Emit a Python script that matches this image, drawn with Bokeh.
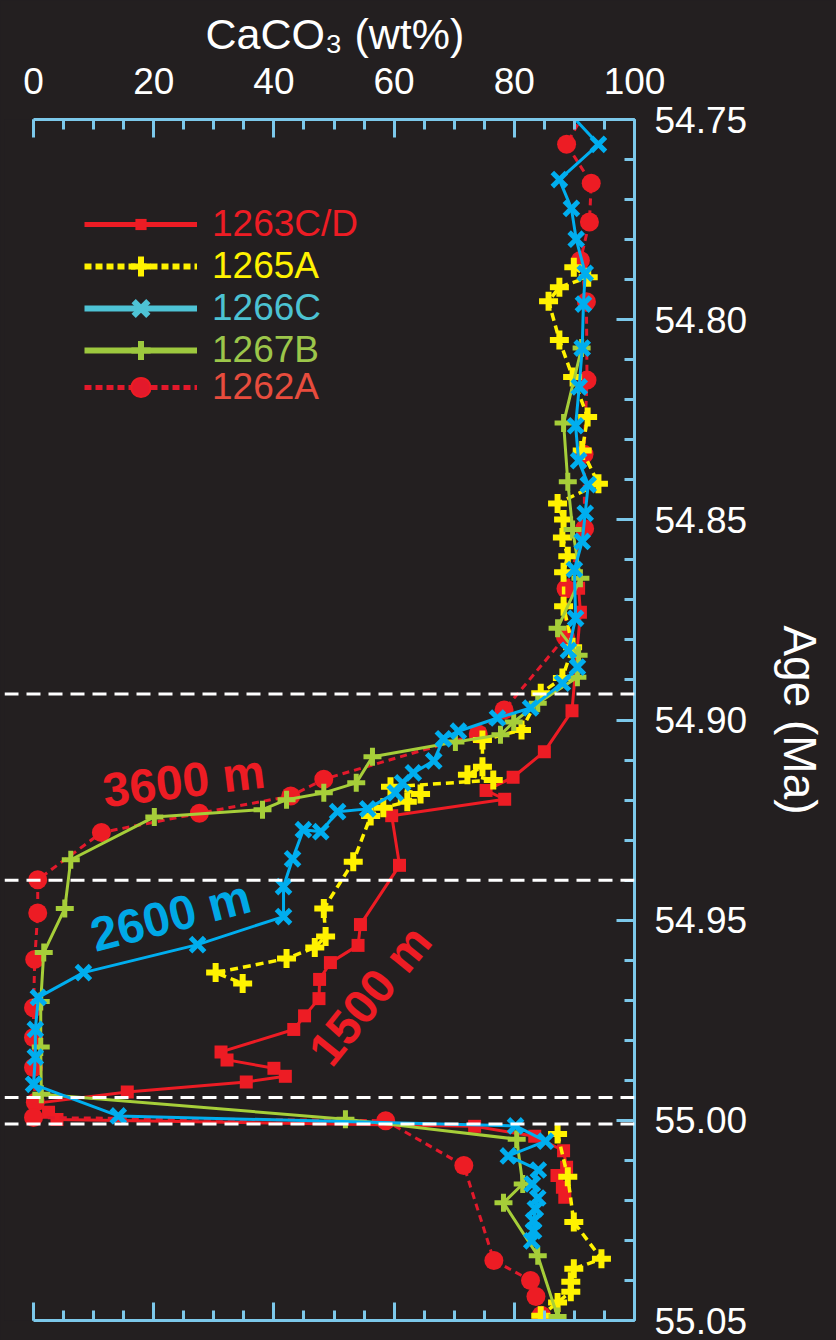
from bokeh.plotting import figure
from bokeh.models import (Range1d, LinearAxis, FixedTicker, PrintfTickFormatter,
                          CustomJSTickFormatter, Span, Label, Legend, LegendItem, Title)
from bokeh.embed import file_html
from bokeh.resources import INLINE

nan = float("nan")

# ---------------- data ----------------
# Site 1263C/D (1500 m)
s1263_wt = [90.7, 91.0, 89.6, 85.0, 79.8, 75.3, 78.4, 59.6, 60.9, 54.4, 54.0, 49.4,
            47.6, 47.5, 45.1, 43.3, 31.2, 32.2, 40.0, 41.9, 35.4, 15.6, 0.6, 2.5,
            3.9, 73.4, 83.4, 88.2, 88.7, 87.1, 88.0, 88.4]
s1263_age = [54.8671, 54.8731, 54.8977, 54.9079, 54.9143, 54.9176, 54.9198, 54.9239,
             54.9363, 54.9511, 54.9563, 54.9606, 54.9648, 54.9696, 54.9739, 54.9773,
             54.9829, 54.9849, 54.9870, 54.9890, 54.9904, 54.9929, 54.9957, 54.9980,
             54.9998, 55.0015, 55.0040, 55.0076, 55.0117, 55.0138, 55.0167, 55.0192]

# Site 1265A
s1265_wt = [89.9, 92.3, 87.5, 85.7, 87.5, 89.7, 92.2, 91.3, 94.0, 87.2, 88.2, 88.0,
            88.9, 88.2, 88.2, 89.7, 88.0, 84.4, 81.2, 74.7, 74.7, 72.2, 76.5, 59.4,
            64.4, 62.2, 58.2, 56.1, 53.2, 48.3, 48.6, 46.8, 42.1, 30.3, 34.8, nan,
            87.2, 88.9, 89.9, 94.5, 89.9, 89.4, 89.4, 87.2, 84.4]
s1265_age = [54.7869, 54.7894, 54.7919, 54.7954, 54.8051, 54.8143, 54.8243, 54.8327,
             54.8410, 54.8459, 54.8499, 54.8544, 54.8591, 54.8631, 54.8716, 54.8818,
             54.8895, 54.8933, 54.9025, 54.9050, 54.9117, 54.9137, 54.9150, 54.9167,
             54.9185, 54.9204, 54.9219, 54.9240, 54.9354, 54.9471, 54.9541, 54.9568,
             54.9596, 54.9631, 54.9658, nan,
             55.0034, 55.0141, 55.0254, 55.0346, 55.0371, 55.0403, 55.0428, 55.0455,
             55.0488]

# Site 1266C (2600 m)
s1266_wt = [87.7, 94.0, 87.5, 89.5, 90.3, 91.8, 91.5, 91.3, 90.8, 90.2, 90.7, 92.3,
            91.8, 91.3, 90.0, 90.2, 89.0, 90.5, 88.0, 82.7, 77.2, 70.7, 68.2, 66.6,
            63.2, 61.4, 60.2, 55.6, 50.6, 47.8, 44.9, 43.1, 41.6, 41.6, 27.3, 8.3,
            0.8, 0.3, 0.3, 0.0, 14.1, 80.2, 85.2, 79.0, 84.0, 83.0, 83.9, 83.5,
            83.2, 83.2, 82.9]
s1266_age = [54.7460, 54.7562, 54.7650, 54.7722, 54.7799, 54.7884, 54.7961, 54.8071,
             54.8168, 54.8265, 54.8352, 54.8412, 54.8484, 54.8554, 54.8624, 54.8746,
             54.8826, 54.8868, 54.8908, 54.8970, 54.8995, 54.9028, 54.9047, 54.9102,
             54.9132, 54.9157, 54.9182, 54.9222, 54.9229, 54.9279, 54.9274, 54.9347,
             54.9416, 54.9491, 54.9561, 54.9631, 54.9693, 54.9773, 54.9842, 54.9910,
             54.9989, 55.0014, 55.0052, 55.0089, 55.0124, 55.0159, 55.0194, 55.0221,
             55.0251, 55.0276, 55.0301]

# Site 1267B
s1267_wt = [91.2, 88.2, 88.9, 89.7, 91.0, 87.2, 90.7, 90.5, 83.9, 79.9, 77.7, 70.2,
            56.4, 53.7, 48.3, 42.1, 38.1, 20.1, 6.2, 5.2, 1.7, 1.2, 1.2, 1.3,
            51.9, 80.4, 81.4, 78.2, 83.9, 87.2]
s1267_age = [54.8071, 54.8258, 54.8405, 54.8524, 54.8646, 54.8771, 54.8838, 54.8893,
             54.8958, 54.9005, 54.9037, 54.9055, 54.9092, 54.9157, 54.9182, 54.9199,
             54.9224, 54.9242, 54.9349, 54.9471, 54.9581, 54.9703, 54.9817, 54.9935,
             54.9997, 55.0047, 55.0159, 55.0206, 55.0338, 55.0490]

# Site 1262A (3600 m)
s1262_wt = [92.5, 88.7, 92.8, 92.5, 91.0, 92.0, 92.1, 91.6, 91.7, 88.6, 88.5, 78.3,
            74.0, 48.3, 42.8, 27.6, 11.3, 0.7, 0.7, 0.2, 0.0, 0.0, 0.0, 0.3, 0.0,
            58.6, 71.6, 76.6, 82.7, 83.6, 84.5]
s1262_age = [54.7460, 54.7562, 54.7659, 54.7756, 54.7852, 54.7955, 54.8151, 54.8336,
             54.8522, 54.8672, 54.8792, 54.8975, 54.9035, 54.9148, 54.9190, 54.9233,
             54.9281, 54.9399, 54.9482, 54.9598, 54.9719, 54.9793, 54.9868, 54.9955,
             54.9993, 55.0001, 55.0113, 55.0350, 55.0400, 55.0440, 55.0487]

event_ages = [54.8935, 54.9400, 54.9943, 55.0009]

x_ticks = [0, 20, 40, 60, 80, 100]
x_minor = list(range(0, 101, 5))
y_ticks = [54.75, 54.80, 54.85, 54.90, 54.95, 55.00, 55.05]
y_minor = [round(54.75 + 0.01 * i, 2) for i in range(31)]

series_names = ["1263C/D", "1265A", "1266C", "1267B", "1262A"]
depth_labels = ["3600 m", "2600 m", "1500 m"]
x_title = "CaCO\u2083 (wt%)"
y_title = "Age (Ma)"

# ---------------- style ----------------
FONT = "Liberation Sans"
BG = "#231f20"
AX = "#7cc8ea"
RED = "#ed1c24"
RED2 = "#e3192b"
YEL = "#fff200"
BLUE = "#00aeef"
GREEN = "#a6ce39"

p = figure(frame_width=630, frame_height=1201, output_backend="svg", toolbar_location=None,
           x_range=Range1d(-4.83, 100), y_range=Range1d(55.05, 54.75),
           x_axis_location="above", y_axis_location="right",
           min_border_left=4, min_border_right=198, min_border_top=118, min_border_bottom=21,
           background_fill_color=BG, border_fill_color=BG, outline_line_color=None)
p.grid.visible = False


def style_axis(ax):
    ax.axis_line_color = AX
    ax.axis_line_width = 3
    ax.major_tick_line_color = AX
    ax.major_tick_line_width = 3
    ax.minor_tick_line_color = AX
    ax.minor_tick_line_width = 3
    ax.major_tick_in = 18
    ax.major_tick_out = 0
    ax.minor_tick_in = 10
    ax.minor_tick_out = 0
    ax.major_label_text_color = "white"
    ax.major_label_text_font = FONT
    ax.major_label_text_font_size = "37px"


xa = p.xaxis[0]
xa.ticker = FixedTicker(ticks=x_ticks, minor_ticks=x_minor)
xa.bounds = (0, 100)
style_axis(xa)
xa.major_label_standoff = 26

xb = LinearAxis(ticker=FixedTicker(ticks=x_ticks, minor_ticks=x_minor), bounds=(0, 100),
                formatter=CustomJSTickFormatter(code="return ''"))
style_axis(xb)
xb.major_label_standoff = 0
p.add_layout(xb, "below")

ya = p.yaxis[0]
ya.ticker = FixedTicker(ticks=y_ticks, minor_ticks=y_minor)
ya.formatter = PrintfTickFormatter(format="%.2f")
style_axis(ya)
ya.major_label_standoff = 20
ya.axis_label = y_title
ya.axis_label_text_font = FONT
ya.axis_label_text_font_size = "46px"
ya.axis_label_text_font_style = "normal"
ya.axis_label_text_color = "white"
ya.axis_label_standoff = 24

p.add_layout(Title(text=x_title, align="left", offset=201, standoff=14,
                   text_font=FONT, text_font_size="43px", text_font_style="normal",
                   text_color="white"), "above")

# ---------------- data renderers ----------------
l63 = p.line(s1263_wt, s1263_age, line_color=RED, line_width=3)
m63 = p.scatter(s1263_wt, s1263_age, marker="square", size=13, fill_color=RED, line_color=None)

l62 = p.line(s1262_wt, s1262_age, line_color=RED2, line_width=3, line_dash="7 5")
m62 = p.scatter(s1262_wt, s1262_age, marker="circle", size=19, fill_color=RED, line_color=None)

l65 = p.line(s1265_wt, s1265_age, line_color=YEL, line_width=3.5, line_dash="8 5")
m65 = p.scatter(s1265_wt, s1265_age, marker="cross", size=19, line_color=YEL, line_width=6)

l67 = p.line(s1267_wt, s1267_age, line_color=GREEN, line_width=3)
m67 = p.scatter(s1267_wt, s1267_age, marker="cross", size=18, line_color=GREEN, line_width=5)

l66 = p.line(s1266_wt, s1266_age, line_color=BLUE, line_width=3)
m66 = p.scatter(s1266_wt, s1266_age, marker="x", size=20, line_color=BLUE, line_width=5)

for a in event_ages:
    p.add_layout(Span(location=a, dimension="width", line_color="white",
                      line_width=3, line_dash="14 8"))

# ---------------- depth annotations ----------------
for txt, x, y, ang, col in [(depth_labels[0], 25.0, 54.9152, 7, RED),
                            (depth_labels[1], 22.8, 54.9489, 14.5, "#00a8e6"),
                            (depth_labels[2], 56.0, 54.9688, 51, RED)]:
    p.add_layout(Label(x=x, y=y, text=txt, angle=ang, angle_units="deg",
                       text_align="center", text_baseline="middle",
                       text_font=FONT, text_font_size="48px", text_font_style="bold",
                       text_color=col))

# ---------------- legend (one per entry, coloured labels) ----------------
# legend-only (hidden) renderers carrying the thicker legend-sample styles
g63 = [p.line(s1263_wt, s1263_age, line_color=RED, line_width=5, visible=False),
       p.scatter(s1263_wt, s1263_age, marker="square", fill_color=RED, line_color=None, visible=False)]
g65 = [p.line(s1265_wt, s1265_age, line_color=YEL, line_width=6, line_dash="7 4", visible=False),
       p.scatter(s1265_wt, s1265_age, marker="cross", line_color=YEL, line_width=6, visible=False)]
g66 = [p.line(s1266_wt, s1266_age, line_color="#4ec3d5", line_width=6, visible=False),
       p.scatter(s1266_wt, s1266_age, marker="x", line_color="#4ec3d5", line_width=6, visible=False)]
g67 = [p.line(s1267_wt, s1267_age, line_color="#9dc83e", line_width=6, visible=False),
       p.scatter(s1267_wt, s1267_age, marker="cross", line_color="#9dc83e", line_width=6, visible=False)]
g62 = [p.line(s1262_wt, s1262_age, line_color=RED2, line_width=5, line_dash="7 4", visible=False),
       p.scatter(s1262_wt, s1262_age, marker="circle", fill_color=RED2, line_color=RED,
                 line_width=2, visible=False)]

leg_specs = [
    # name, renderers, text colour, glyph height, centre (px above frame bottom)
    (series_names[0], g63, RED, 28, 1096),
    (series_names[1], g65, YEL, 50, 1054),
    (series_names[2], g66, "#4cc2d2", 52, 1012),
    (series_names[3], g67, "#9cc64a", 48, 970),
    (series_names[4], g62, "#e84c3d", 48, 933),
]
for name, rends, tcol, gh, cy in leg_specs:
    h = max(gh, 42)
    lg = Legend(items=[LegendItem(label=name, renderers=rends)],
                location=(80, cy - h / 2), orientation="vertical",
                padding=0, margin=0, spacing=0,
                glyph_width=113, glyph_height=gh, label_height=20, label_standoff=15,
                label_text_font=FONT, label_text_font_size="37px",
                label_text_color=tcol, label_text_baseline="middle",
                background_fill_alpha=0, border_line_alpha=0)
    p.add_layout(lg)

html = file_html(p, INLINE, title="CaCO3 vs Age")
html = html.replace("</head>", "<style>body{background-color:#231f20;}</style></head>", 1)
open("out.html", "w").write(html)
